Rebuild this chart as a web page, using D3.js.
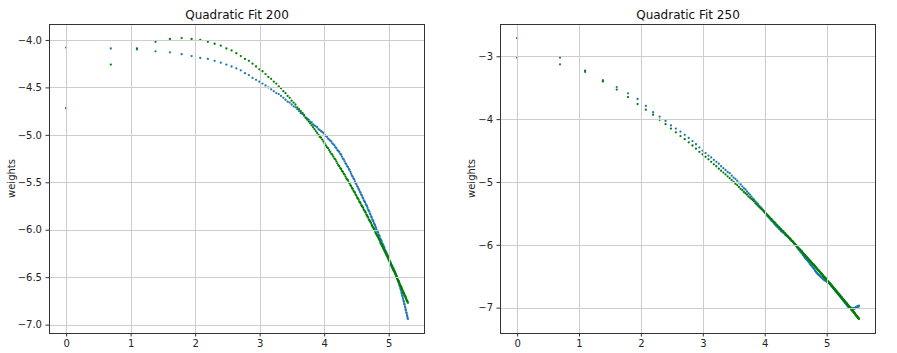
<!DOCTYPE html>
<html>
<head>
<meta charset="utf-8">
<script src="https://cdn.jsdelivr.net/npm/d3@7"></script>
<style>
  html, body { margin: 0; padding: 0; background: #fff; }
  svg { display: block; }
  text { font-family: "DejaVu Sans", sans-serif; }
</style>
</head>
<body>
<svg id="chart" width="897" height="353"></svg>
<script>
// ---- data ----
// sample index k; the x axis shows ln(k)
const sampleIndex200 = d3.range(1, 201);
const sampleIndex250 = d3.range(1, 251);

const xTicks = [0, 1, 2, 3, 4, 5];
const yTicks200 = [-7.0, -6.5, -6.0, -5.5, -5.0, -4.5, -4.0];
const yTicks250 = [-7, -6, -5, -4, -3];

const weights200 = [
  -4.08,-4.09,-4.10,-4.12,-4.13,-4.15,-4.17,-4.19,-4.20,-4.22,
  -4.24,-4.26,-4.28,-4.30,-4.32,-4.35,-4.37,-4.40,-4.42,-4.44,
  -4.46,-4.48,-4.50,-4.52,-4.54,-4.56,-4.57,-4.59,-4.61,-4.63,
  -4.65,-4.66,-4.68,-4.70,-4.71,-4.73,-4.75,-4.77,-4.78,-4.80,
  -4.82,-4.83,-4.84,-4.86,-4.87,-4.89,-4.90,-4.91,-4.92,-4.94,
  -4.95,-4.96,-4.97,-4.98,-5.00,-5.01,-5.02,-5.04,-5.05,-5.06,
  -5.07,-5.09,-5.10,-5.11,-5.13,-5.14,-5.16,-5.17,-5.18,-5.20,
  -5.21,-5.23,-5.25,-5.26,-5.28,-5.30,-5.31,-5.33,-5.34,-5.36,
  -5.37,-5.39,-5.41,-5.43,-5.44,-5.46,-5.47,-5.49,-5.51,-5.52,
  -5.54,-5.55,-5.57,-5.58,-5.60,-5.61,-5.63,-5.64,-5.66,-5.67,
  -5.69,-5.70,-5.71,-5.73,-5.74,-5.75,-5.77,-5.79,-5.80,-5.81,
  -5.83,-5.84,-5.86,-5.87,-5.89,-5.90,-5.91,-5.93,-5.94,-5.95,
  -5.97,-5.98,-6.00,-6.01,-6.02,-6.03,-6.05,-6.06,-6.07,-6.09,
  -6.10,-6.11,-6.12,-6.14,-6.15,-6.16,-6.17,-6.18,-6.19,-6.21,
  -6.22,-6.23,-6.24,-6.25,-6.26,-6.27,-6.28,-6.30,-6.31,-6.32,
  -6.33,-6.34,-6.35,-6.36,-6.37,-6.38,-6.38,-6.40,-6.40,-6.41,
  -6.42,-6.43,-6.44,-6.45,-6.46,-6.47,-6.48,-6.49,-6.50,-6.52,
  -6.53,-6.54,-6.55,-6.56,-6.58,-6.59,-6.60,-6.62,-6.63,-6.64,
  -6.66,-6.67,-6.69,-6.70,-6.72,-6.73,-6.75,-6.76,-6.78,-6.79,
  -6.81,-6.82,-6.84,-6.85,-6.87,-6.88,-6.90,-6.91,-6.93,-6.94
];
const fit200 = [
  -4.72,-4.26,-4.09,-4.02,-3.99,-3.98,-3.99,-4.00,-4.02,-4.04,
  -4.06,-4.09,-4.11,-4.14,-4.17,-4.20,-4.22,-4.25,-4.28,-4.31,
  -4.33,-4.36,-4.39,-4.41,-4.44,-4.46,-4.49,-4.51,-4.54,-4.56,
  -4.59,-4.61,-4.64,-4.66,-4.68,-4.71,-4.73,-4.75,-4.77,-4.79,
  -4.82,-4.84,-4.86,-4.88,-4.90,-4.92,-4.94,-4.96,-4.98,-5.00,
  -5.02,-5.03,-5.05,-5.07,-5.09,-5.11,-5.13,-5.14,-5.16,-5.18,
  -5.20,-5.21,-5.23,-5.25,-5.26,-5.28,-5.30,-5.32,-5.33,-5.35,
  -5.36,-5.38,-5.39,-5.41,-5.42,-5.44,-5.46,-5.47,-5.48,-5.50,
  -5.51,-5.53,-5.54,-5.56,-5.57,-5.59,-5.60,-5.61,-5.63,-5.64,
  -5.66,-5.67,-5.68,-5.70,-5.71,-5.72,-5.74,-5.75,-5.76,-5.77,
  -5.79,-5.80,-5.81,-5.82,-5.84,-5.85,-5.86,-5.87,-5.89,-5.90,
  -5.91,-5.92,-5.93,-5.95,-5.96,-5.97,-5.98,-5.99,-6.00,-6.01,
  -6.03,-6.04,-6.05,-6.06,-6.07,-6.08,-6.09,-6.10,-6.11,-6.13,
  -6.14,-6.15,-6.16,-6.17,-6.18,-6.19,-6.20,-6.21,-6.22,-6.23,
  -6.24,-6.25,-6.26,-6.27,-6.28,-6.29,-6.30,-6.31,-6.32,-6.33,
  -6.34,-6.35,-6.36,-6.37,-6.38,-6.39,-6.40,-6.41,-6.42,-6.43,
  -6.43,-6.44,-6.45,-6.46,-6.47,-6.48,-6.49,-6.50,-6.51,-6.52,
  -6.53,-6.54,-6.54,-6.55,-6.56,-6.57,-6.58,-6.59,-6.60,-6.60,
  -6.61,-6.62,-6.63,-6.64,-6.65,-6.66,-6.66,-6.67,-6.68,-6.69,
  -6.70,-6.70,-6.71,-6.72,-6.73,-6.74,-6.75,-6.75,-6.76,-6.77
];
const weights250 = [
  -3.02,-3.13,-3.25,-3.38,-3.49,-3.59,-3.68,-3.79,-3.89,-3.96,
  -4.03,-4.10,-4.15,-4.20,-4.25,-4.30,-4.35,-4.40,-4.45,-4.50,
  -4.54,-4.58,-4.61,-4.65,-4.68,-4.71,-4.75,-4.78,-4.81,-4.84,
  -4.86,-4.90,-4.93,-4.95,-4.98,-5.01,-5.04,-5.07,-5.10,-5.12,
  -5.15,-5.18,-5.20,-5.23,-5.26,-5.28,-5.31,-5.33,-5.35,-5.38,
  -5.40,-5.42,-5.45,-5.47,-5.49,-5.51,-5.54,-5.56,-5.58,-5.60,
  -5.62,-5.63,-5.65,-5.67,-5.69,-5.70,-5.72,-5.73,-5.75,-5.76,
  -5.78,-5.79,-5.80,-5.81,-5.82,-5.84,-5.85,-5.86,-5.87,-5.88,
  -5.89,-5.91,-5.92,-5.93,-5.94,-5.95,-5.97,-5.98,-6.00,-6.01,
  -6.02,-6.04,-6.05,-6.07,-6.08,-6.09,-6.11,-6.12,-6.13,-6.14,
  -6.16,-6.17,-6.18,-6.20,-6.21,-6.22,-6.23,-6.24,-6.25,-6.26,
  -6.27,-6.28,-6.30,-6.31,-6.32,-6.33,-6.34,-6.35,-6.36,-6.37,
  -6.38,-6.39,-6.41,-6.42,-6.43,-6.44,-6.45,-6.46,-6.47,-6.47,
  -6.48,-6.49,-6.49,-6.50,-6.51,-6.51,-6.52,-6.53,-6.53,-6.54,
  -6.55,-6.55,-6.56,-6.56,-6.57,-6.57,-6.57,-6.58,-6.58,-6.59,
  -6.59,-6.60,-6.60,-6.61,-6.61,-6.61,-6.62,-6.63,-6.64,-6.65,
  -6.65,-6.66,-6.67,-6.68,-6.68,-6.69,-6.70,-6.71,-6.71,-6.72,
  -6.73,-6.74,-6.74,-6.75,-6.76,-6.76,-6.77,-6.78,-6.78,-6.79,
  -6.80,-6.80,-6.81,-6.82,-6.82,-6.83,-6.84,-6.84,-6.85,-6.86,
  -6.86,-6.87,-6.88,-6.88,-6.89,-6.89,-6.90,-6.91,-6.91,-6.92,
  -6.93,-6.93,-6.94,-6.94,-6.95,-6.96,-6.96,-6.97,-6.97,-6.98,
  -6.98,-6.99,-7.00,-7.00,-7.00,-7.00,-7.00,-7.00,-7.00,-7.01,
  -7.01,-7.01,-7.01,-7.01,-7.01,-7.01,-7.01,-7.01,-7.01,-7.01,
  -7.01,-7.01,-7.01,-7.01,-7.01,-7.00,-7.00,-7.00,-7.00,-7.00,
  -6.99,-6.99,-6.99,-6.99,-6.98,-6.98,-6.98,-6.98,-6.98,-6.97
];
const fit250 = [
  -2.71,-3.02,-3.23,-3.40,-3.53,-3.65,-3.76,-3.85,-3.93,-4.01,
  -4.08,-4.15,-4.21,-4.27,-4.32,-4.37,-4.42,-4.47,-4.52,-4.56,
  -4.60,-4.64,-4.68,-4.72,-4.75,-4.79,-4.82,-4.85,-4.88,-4.91,
  -4.94,-4.97,-5.00,-5.03,-5.05,-5.08,-5.11,-5.13,-5.16,-5.18,
  -5.20,-5.23,-5.25,-5.27,-5.29,-5.31,-5.34,-5.36,-5.38,-5.40,
  -5.42,-5.43,-5.45,-5.47,-5.49,-5.51,-5.53,-5.54,-5.56,-5.58,
  -5.59,-5.61,-5.63,-5.64,-5.66,-5.68,-5.69,-5.71,-5.72,-5.74,
  -5.75,-5.77,-5.78,-5.79,-5.81,-5.82,-5.84,-5.85,-5.86,-5.88,
  -5.89,-5.90,-5.91,-5.93,-5.94,-5.95,-5.96,-5.98,-5.99,-6.00,
  -6.01,-6.02,-6.04,-6.05,-6.06,-6.07,-6.08,-6.09,-6.10,-6.11,
  -6.13,-6.14,-6.15,-6.16,-6.17,-6.18,-6.19,-6.20,-6.21,-6.22,
  -6.23,-6.24,-6.25,-6.26,-6.27,-6.28,-6.29,-6.30,-6.31,-6.31,
  -6.32,-6.33,-6.34,-6.35,-6.36,-6.37,-6.38,-6.39,-6.40,-6.41,
  -6.41,-6.42,-6.43,-6.44,-6.45,-6.46,-6.46,-6.47,-6.48,-6.49,
  -6.50,-6.51,-6.51,-6.52,-6.53,-6.54,-6.54,-6.55,-6.56,-6.57,
  -6.58,-6.58,-6.59,-6.60,-6.61,-6.61,-6.62,-6.63,-6.64,-6.64,
  -6.65,-6.66,-6.66,-6.67,-6.68,-6.69,-6.69,-6.70,-6.71,-6.71,
  -6.72,-6.73,-6.73,-6.74,-6.75,-6.75,-6.76,-6.77,-6.77,-6.78,
  -6.79,-6.79,-6.80,-6.81,-6.81,-6.82,-6.83,-6.83,-6.84,-6.84,
  -6.85,-6.86,-6.86,-6.87,-6.88,-6.88,-6.89,-6.89,-6.90,-6.91,
  -6.91,-6.92,-6.92,-6.93,-6.93,-6.94,-6.95,-6.95,-6.96,-6.96,
  -6.97,-6.98,-6.98,-6.99,-6.99,-7.00,-7.00,-7.01,-7.01,-7.02,
  -7.03,-7.03,-7.04,-7.04,-7.05,-7.05,-7.06,-7.06,-7.07,-7.07,
  -7.08,-7.08,-7.09,-7.09,-7.10,-7.11,-7.11,-7.12,-7.12,-7.13,
  -7.13,-7.14,-7.14,-7.15,-7.15,-7.16,-7.16,-7.17,-7.17,-7.18
];

// ---- drawing ----
const svg = d3.select("#chart");
const plotTop = 24, plotBottom = 333;
const BLUE = "#1f77b4", GREEN = "#008000";
const minus = s => s.replace(/-/g, "\u2212");

const panels = [
  { title: "Quadratic Fit 200", index: sampleIndex200, data: weights200, fit: fit200,
    yTicks: yTicks200, fmt: d3.format(".1f"), left: 49, right: 425, labelX: 15 },
  { title: "Quadratic Fit 250", index: sampleIndex250, data: weights250, fit: fit250,
    yTicks: yTicks250, fmt: d3.format("d"), left: 500, right: 876, labelX: 475 }
];

panels.forEach(p => {
  const n = p.index[p.index.length - 1];
  const lnMax = Math.log(n), lnMin = Math.log(p.index[0]);
  const span = lnMax - lnMin;
  // log scale on the sample index = linear in ln(k), with 5% margins
  const x = d3.scaleLog().base(Math.E)
    .domain([Math.exp(lnMin - 0.05 * span), Math.exp(lnMax + 0.05 * span)])
    .range([p.left, p.right]);
  const all = p.data.concat(p.fit);
  const [ymin, ymax] = d3.extent(all);
  const ys = ymax - ymin;
  const y = d3.scaleLinear()
    .domain([ymin - 0.05 * ys, ymax + 0.05 * ys])
    .range([plotBottom, plotTop]);

  const g = svg.append("g");

  // points (data first, fit on top)
  const pts = g.append("g");
  pts.selectAll("circle.data").data(p.index).join("circle")
    .attr("class", "data")
    .attr("cx", k => x(k)).attr("cy", (k, i) => y(p.data[i]))
    .attr("r", 1.15).attr("fill", BLUE);
  pts.selectAll("circle.fit").data(p.index).join("circle")
    .attr("class", "fit")
    .attr("cx", k => x(k)).attr("cy", (k, i) => y(p.fit[i]))
    .attr("r", 1.15).attr("fill", GREEN);

  // grid (drawn over the markers, like matplotlib's default)
  const xTickVals = xTicks.map(v => Math.exp(v));
  g.append("g").selectAll("line").data(xTickVals).join("line")
    .attr("x1", d => Math.round(x(d)) + 0.5).attr("x2", d => Math.round(x(d)) + 0.5)
    .attr("y1", plotTop).attr("y2", plotBottom)
    .attr("stroke", "#cdcdcd").attr("stroke-width", 1);
  g.append("g").selectAll("line").data(p.yTicks).join("line")
    .attr("y1", d => Math.round(y(d)) + 0.5).attr("y2", d => Math.round(y(d)) + 0.5)
    .attr("x1", p.left).attr("x2", p.right)
    .attr("stroke", "#cdcdcd").attr("stroke-width", 1);

  // axes
  const xAxis = d3.axisBottom(x).tickValues(xTickVals)
    .tickFormat(d => String(Math.round(Math.log(d)))).tickSizeInner(3.5).tickSizeOuter(0).tickPadding(3.5);
  const gx = g.append("g").attr("transform", `translate(0,${plotBottom})`).call(xAxis);
  const yAxis = d3.axisLeft(y).tickValues(p.yTicks)
    .tickFormat(d => minus(p.fmt(d))).tickSizeInner(3.5).tickSizeOuter(0).tickPadding(3.5);
  const gy = g.append("g").attr("transform", `translate(${p.left},0)`).call(yAxis);
  [gx, gy].forEach(a => {
    a.select(".domain").remove();
    a.selectAll(".tick line").attr("stroke", "#333");
    a.selectAll(".tick text").attr("fill", "#222")
      .style("font-size", "10px").style("font-family", "DejaVu Sans, sans-serif");
  });

  // frame
  g.append("rect")
    .attr("x", p.left + 0.5).attr("y", plotTop + 0.5)
    .attr("width", p.right - p.left - 1).attr("height", plotBottom - plotTop)
    .attr("fill", "none").attr("stroke", "#333").attr("stroke-width", 1);

  // title
  g.append("text")
    .attr("x", (p.left + p.right) / 2).attr("y", 18.5)
    .attr("text-anchor", "middle").attr("fill", "#111")
    .style("font-size", "12px").text(p.title);

  // y label
  g.append("text")
    .attr("transform", `translate(${p.labelX},${(plotTop + plotBottom) / 2}) rotate(-90)`)
    .attr("text-anchor", "middle").attr("fill", "#222")
    .style("font-size", "10px").text("weights");
});
</script>
</body>
</html>
